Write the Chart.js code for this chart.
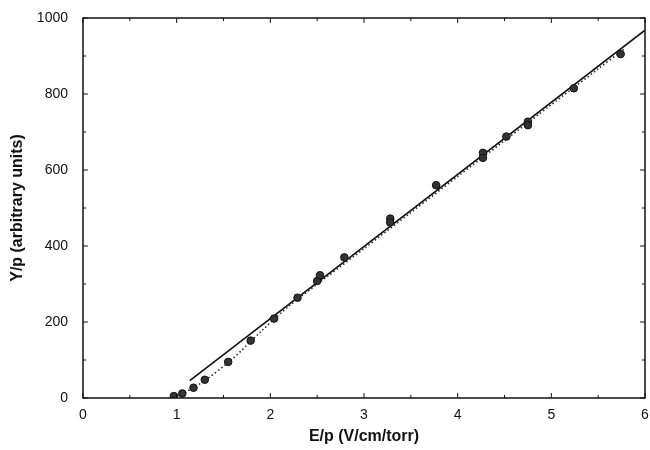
<!DOCTYPE html>
<html>
<head>
<meta charset="utf-8">
<script src="https://cdn.jsdelivr.net/npm/chart.js@4.4.0/dist/chart.umd.min.js"></script>
<style>
html, body { margin: 0; padding: 0; background: #fff; }
#wrap { width: 650px; height: 450px; }
</style>
</head>
<body>
<div id="wrap"><canvas id="chart" width="650" height="450"></canvas></div>
<script>
// measured points, E/p vs Y/p
const ep_values = [0.97, 1.06, 1.18, 1.30, 1.55, 1.79, 2.04, 2.29, 2.50, 2.53, 2.79, 3.28, 3.28, 3.77, 4.27, 4.27, 4.52, 4.75, 4.75, 5.24, 5.74];
const yp_values = [5, 12, 27, 48, 95, 151, 209, 264, 308, 323, 370, 472, 462, 560, 645, 632, 688, 727, 718, 815, 905];

// straight fit (solid)
const fit_x = [1.14, 6.0];
const fit_y = [46, 968];

// dotted curve
const curve_x = [0.97, 1.1, 1.3, 1.6, 1.9, 2.2, 2.6, 3.0, 3.5, 4.0, 4.5, 5.0, 5.5, 5.78];
const curve_y = [2, 16, 46, 104, 175, 242, 318, 393, 488, 583, 677, 772, 866, 919];

// axis ticks
const x_major = [0, 1, 2, 3, 4, 5, 6];
const x_minor = [0.5, 1.5, 2.5, 3.5, 4.5, 5.5];
const y_major = [0, 200, 400, 600, 800, 1000];
const y_minor = [100, 300, 500, 700, 900];

const toPoints = (xs, ys) => xs.map((x, i) => ({ x: x, y: ys[i] }));
const FONT = 'Liberation Sans, Arial, sans-serif';

// frame + inward ticks on all four sides
const frameTicks = {
    id: 'frameTicks',
    afterDraw(chart) {
        const { ctx, chartArea: a, scales } = chart;
        ctx.save();
        ctx.strokeStyle = '#111';
        ctx.lineWidth = 1.5;
        ctx.strokeRect(a.left, a.top, a.right - a.left, a.bottom - a.top);
        ctx.lineWidth = 1;
        const tickX = (vals, len) => {
            vals.forEach(v => {
                const px = scales.x.getPixelForValue(v);
                ctx.beginPath();
                ctx.moveTo(px, a.bottom); ctx.lineTo(px, a.bottom - len);
                ctx.moveTo(px, a.top); ctx.lineTo(px, a.top + len);
                ctx.stroke();
            });
        };
        const tickY = (vals, len) => {
            vals.forEach(v => {
                const py = scales.y.getPixelForValue(v);
                ctx.beginPath();
                ctx.moveTo(a.left, py); ctx.lineTo(a.left + len, py);
                ctx.moveTo(a.right, py); ctx.lineTo(a.right - len, py);
                ctx.stroke();
            });
        };
        tickX(x_major, 5); tickX(x_minor, 3);
        tickY(y_major, 5); tickY(y_minor, 3);
        ctx.restore();
    }
};

const ctx = document.getElementById('chart');

new Chart(ctx, {
    type: 'scatter',
    data: {
        datasets: [
            {
                label: 'fit',
                data: toPoints(fit_x, fit_y),
                showLine: true,
                borderColor: '#111',
                borderWidth: 1.6,
                pointRadius: 0,
                order: 3
            },
            {
                label: 'curve',
                data: toPoints(curve_x, curve_y),
                showLine: true,
                borderColor: '#222',
                borderWidth: 1.5,
                borderDash: [1.5, 2.5],
                tension: 0.3,
                pointRadius: 0,
                order: 2
            },
            {
                label: 'data',
                data: toPoints(ep_values, yp_values),
                pointRadius: 3.8,
                backgroundColor: '#333',
                borderColor: '#111',
                borderWidth: 1,
                order: 1
            }
        ]
    },
    options: {
        responsive: false,
        animation: false,
        devicePixelRatio: 1,
        layout: { padding: { top: 18, right: 5, left: 0, bottom: 0 } },
        plugins: {
            legend: { display: false },
            tooltip: { enabled: false }
        },
        scales: {
            x: {
                type: 'linear',
                min: 0,
                max: 6,
                afterFit: s => { s.height = 52; },
                afterBuildTicks: s => { s.ticks = x_major.map(v => ({ value: v })); },
                grid: { display: false },
                border: { display: false },
                ticks: {
                    color: '#111',
                    padding: 1,
                    maxRotation: 0,
                    callback: v => String(v),
                    font: { family: FONT, size: 14 }
                },
                title: {
                    display: true,
                    text: 'E/p (V/cm/torr)',
                    color: '#111',
                    padding: { top: 0, bottom: 4 },
                    font: { family: FONT, size: 16, weight: 'bold' }
                }
            },
            y: {
                type: 'linear',
                min: 0,
                max: 1000,
                afterFit: s => { s.width = 83; },
                afterBuildTicks: s => { s.ticks = y_major.map(v => ({ value: v })); },
                grid: { display: false },
                border: { display: false },
                ticks: {
                    color: '#111',
                    padding: 7,
                    callback: v => String(v),
                    font: { family: FONT, size: 14 }
                },
                title: {
                    display: true,
                    text: 'Y/p (arbitrary units)',
                    color: '#111',
                    padding: { top: 8, bottom: 0 },
                    font: { family: FONT, size: 16, weight: 'bold' }
                }
            }
        }
    },
    plugins: [frameTicks]
});
</script>
</body>
</html>
